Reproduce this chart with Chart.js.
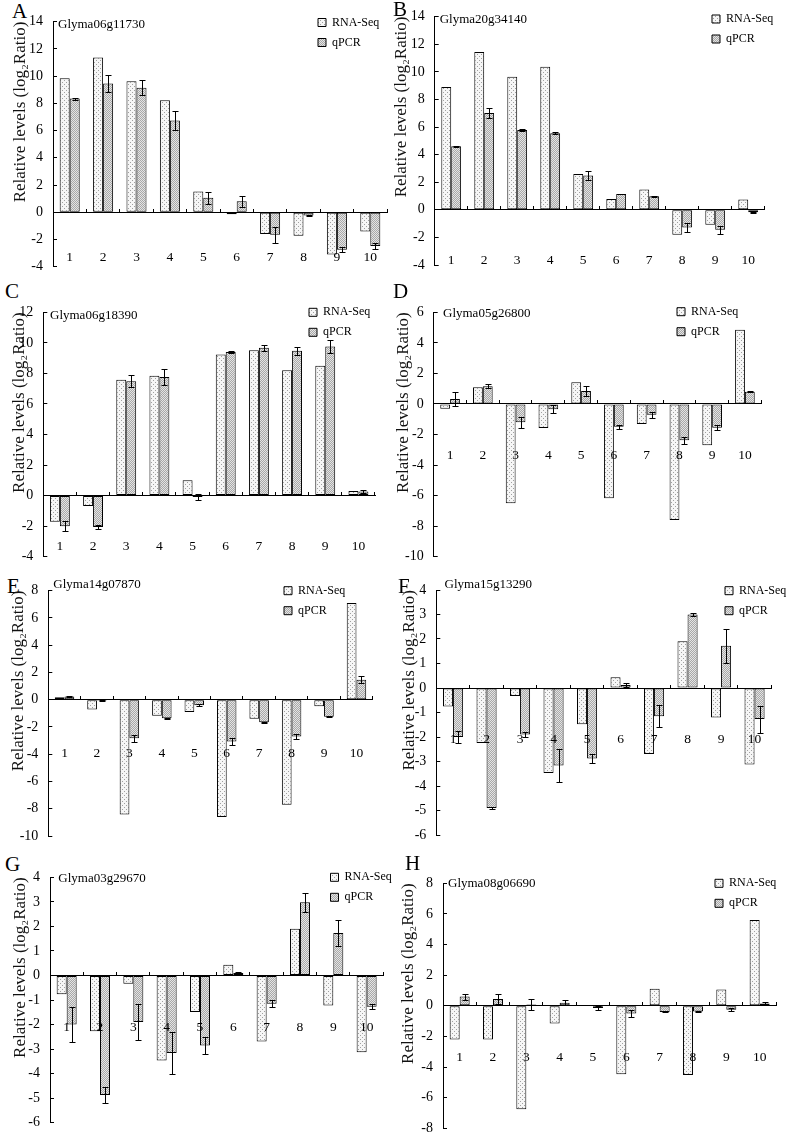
<!DOCTYPE html>
<html>
<head>
<meta charset="utf-8">
<script src="https://cdn.jsdelivr.net/npm/chart.js@4.4.1/dist/chart.umd.min.js"></script>
<style>
  html, body { margin: 0; padding: 0; background: #fff; }
  #fig { position: relative; width: 787px; height: 1138px; overflow: hidden; }
  #fig canvas { position: absolute; }
  .tag { position: absolute; font: 21px 'Liberation Serif', 'Times New Roman', serif; line-height: 21px; color: #000; }
</style>
</head>
<body>
<div id="fig"></div>
<script>
// Eight panels: RNA-Seq vs qPCR relative levels (log2 ratio) for ten samples.
const samples = ['1', '2', '3', '4', '5', '6', '7', '8', '9', '10'];
const genes = ['Glyma06g11730', 'Glyma20g34140', 'Glyma06g18390', 'Glyma05g26800',
  'Glyma14g07870', 'Glyma15g13290', 'Glyma03g29670', 'Glyma08g06690'];
const panelTags = ['A', 'B', 'C', 'D', 'E', 'F', 'G', 'H'];

const rnaA = [9.85, 11.37, 9.63, 8.22, 1.52, -0.15, -1.6, -1.72, -3.1, -1.42];
const qpcrA = [8.35, 9.46, 9.15, 6.75, 1.07, 0.8, -1.65, -0.24, -2.75, -2.47];
const errA = [0.08, 0.6, 0.55, 0.72, 0.45, 0.42, 0.6, 0.05, 0.2, 0.2];

const rnaB = [8.9, 11.45, 9.65, 10.37, 2.6, 0.78, 1.48, -1.8, -1.08, 0.74];
const qpcrB = [4.6, 7.02, 5.78, 5.55, 2.48, 1.15, 0.98, -1.28, -1.45, -0.18];
const errB = [0.05, 0.38, 0.05, 0.06, 0.3, 0.03, 0.03, 0.3, 0.28, 0.03];

const rnaC = [-1.72, -0.68, 7.58, 7.84, 1.0, 9.24, 9.52, 8.21, 8.5, 0.3];
const qpcrC = [-2.0, -2.05, 7.48, 7.77, -0.09, 9.4, 9.68, 9.48, 9.76, 0.27];
const errC = [0.35, 0.12, 0.4, 0.52, 0.2, 0.04, 0.2, 0.28, 0.42, 0.12];

const rnaD = [-0.32, 1.1, -6.5, -1.58, 1.42, -6.18, -1.32, -7.6, -2.7, 4.85];
const qpcrD = [0.33, 1.16, -1.2, -0.34, 0.84, -1.5, -0.7, -2.38, -1.55, 0.8];
const errD = [0.45, 0.14, 0.35, 0.28, 0.32, 0.12, 0.2, 0.22, 0.14, 0.03];

const rnaE = [0.18, -0.72, -8.43, -1.18, -0.9, -8.6, -1.4, -7.7, -0.48, 7.1];
const qpcrE = [0.24, -0.08, -2.82, -1.36, -0.4, -3.07, -1.65, -2.7, -1.25, 1.47];
const errE = [0.03, 0.03, 0.25, 0.04, 0.05, 0.25, 0.04, 0.18, 0.03, 0.27];

const rnaF = [-0.75, -2.24, -0.33, -3.47, -1.48, 0.44, -2.69, 1.91, -1.2, -3.12];
const qpcrF = [-2.0, -4.9, -1.9, -3.16, -2.88, 0.12, -1.15, 3.0, 1.72, -1.27];
const errF = [0.23, 0.03, 0.1, 0.68, 0.2, 0.07, 0.46, 0.08, 0.68, 0.55];

const rnaG = [-0.77, -2.27, -0.34, -3.47, -1.49, 0.44, -2.69, 1.9, -1.22, -3.13];
const qpcrG = [-2.0, -4.87, -1.9, -3.16, -2.85, 0.1, -1.15, 2.98, 1.73, -1.27];
const errG = [0.72, 0.34, 0.75, 0.87, 0.35, 0.04, 0.14, 0.4, 0.52, 0.1];

const rnaH = [-2.2, -2.2, -6.75, -1.15, 0.04, -4.47, 1.12, -4.52, 1.07, 5.6];
const qpcrH = [0.6, 0.44, 0.08, 0.2, -0.15, -0.5, -0.4, -0.38, -0.25, 0.15];
const errH = [0.2, 0.3, 0.35, 0.15, 0.12, 0.22, 0.03, 0.03, 0.08, 0.1];

// [min, max, step] of each y axis
const yRangeA = [-4, 14, 2];
const yRangeB = [-4, 14, 2];
const yRangeC = [-4, 12, 2];
const yRangeD = [-10, 6, 2];
const yRangeE = [-10, 8, 2];
const yRangeF = [-6, 4, 1];
const yRangeG = [-6, 4, 1];
const yRangeH = [-8, 8, 2];

// Page geometry of each panel (pixels), plus where the sample numbers sit (axis value).
const frames = [
  { axisX: 53, rightX: 387, topY: 21.7, botY: 266.7, titleX: 20, labelAt: -2.7, gene: [5, 2.5], legend: [318, 22.5], tag: [12, 1] },
  { axisX: 434.7, rightX: 764.7, topY: 16.7, botY: 265, titleX: 401, labelAt: -3.08, gene: [5, 3], legend: [712, 19], tag: [393, -1] },
  { axisX: 43.3, rightX: 375, topY: 312.3, botY: 556.7, titleX: 19, labelAt: -2.8, gene: [6.7, 3], legend: [309, 312.3], tag: [5, 281] },
  { axisX: 433.7, rightX: 761.3, topY: 312.3, botY: 556.7, titleX: 403, labelAt: -2.83, gene: [9.3, 1], legend: [677, 311.7], tag: [393, 281] },
  { axisX: 48.3, rightX: 372.7, topY: 590.7, botY: 836, titleX: 18.5, labelAt: -3.35, gene: [5, -5.7], legend: [284, 590.7], tag: [7, 576] },
  { axisX: 436.3, rightX: 771.3, topY: 590, botY: 835, titleX: 409, labelAt: -1.75, gene: [8.3, -5], legend: [725, 590.7], tag: [398, 576] },
  { axisX: 50, rightX: 383.3, topY: 877.3, botY: 1122.7, titleX: 20, labelAt: -1.8, gene: [8.3, 1], legend: [330.5, 877.3], tag: [5, 854] },
  { axisX: 443, rightX: 776.3, topY: 883.3, botY: 1128.3, titleX: 408, labelAt: -2.86, gene: [5, 0], legend: [715, 883.3], tag: [405, 853] },
];

const SERIF = "'Liberation Serif', 'Times New Roman', serif";
const LEGEND_FONT = 12;
const LEGEND_PAD = 8;
const PAGE_W = 787;
const fig = document.getElementById('fig');

function makePattern(bg, dot, cells) {
  const c = document.createElement('canvas');
  c.width = 4;
  c.height = 4;
  const g = c.getContext('2d');
  g.fillStyle = bg;
  g.fillRect(0, 0, 4, 4);
  g.fillStyle = dot;
  cells.forEach(([x, y]) => g.fillRect(x, y, 1, 1));
  return g.createPattern(c, 'repeat');
}

const rnaFill = makePattern('#f6f6f6', '#a0a0a0', [[0, 0], [2, 2]]);
const qpcrFill = makePattern('#e4e4e4', '#a8a8a8',
  [[0, 0], [2, 0], [1, 1], [3, 1], [0, 2], [2, 2], [1, 3], [3, 3]]);

function zeroPad(scale) {
  scale.paddingLeft = 0;
  scale.paddingRight = 0;
  scale.paddingTop = 0;
  scale.paddingBottom = 0;
}

// qPCR error bars, placed with the y scale
function errorBars(err) {
  return {
    id: 'errorBars',
    afterDatasetsDraw(chart) {
      const meta = chart.getDatasetMeta(1);
      const values = chart.data.datasets[1].data;
      const y = chart.scales.y;
      const ctx = chart.ctx;
      ctx.save();
      ctx.strokeStyle = '#000';
      ctx.lineWidth = 1;
      meta.data.forEach((bar, i) => {
        const e = err[i];
        if (!e) return;
        const x = Math.round(bar.x) + 0.5;
        const hi = Math.round(y.getPixelForValue(values[i] + e)) + 0.5;
        const lo = Math.round(y.getPixelForValue(values[i] - e)) + 0.5;
        ctx.beginPath();
        ctx.moveTo(x, hi);
        ctx.lineTo(x, lo);
        ctx.moveTo(x - 3, hi);
        ctx.lineTo(x + 3, hi);
        ctx.moveTo(x - 3, lo);
        ctx.lineTo(x + 3, lo);
        ctx.stroke();
      });
      ctx.restore();
    },
  };
}

function geneLabel(name, offset) {
  return {
    id: 'geneLabel',
    afterDraw(chart) {
      const { ctx, chartArea } = chart;
      ctx.save();
      ctx.font = `13px ${SERIF}`;
      ctx.fillStyle = '#000';
      ctx.textBaseline = 'middle';
      ctx.fillText(name, chartArea.left + offset[0], chartArea.top + offset[1]);
      ctx.restore();
    },
  };
}

// The legend sits inside the plot, at the top right, as one column.
function legendPlacer(pos, left, top) {
  return {
    id: 'legendPlacer',
    afterLayout(chart) {
      const lg = chart.legend;
      if (!lg) return;
      lg.left = pos[0] - left - LEGEND_PAD;
      lg.top = pos[1] - top - LEGEND_PAD - LEGEND_FONT / 2;
      lg.width = 120;
      lg.height = 60;
      lg.right = lg.left + lg.width;
      lg.bottom = lg.top + lg.height;
    },
  };
}

function buildPanel(i, rna, qpcr, err, yRange) {
  const f = frames[i];
  const left = Math.round(f.titleX - 10.2);
  const top = Math.max(0, Math.round(f.topY - 20));
  const width = Math.round(Math.min(PAGE_W, f.rightX + 30) - left);
  const height = Math.round(f.botY + 10 - top);

  const tag = document.createElement('div');
  tag.className = 'tag';
  tag.textContent = panelTags[i];
  tag.style.left = f.tag[0] + 'px';
  tag.style.top = f.tag[1] + 'px';
  fig.appendChild(tag);

  const canvas = document.createElement('canvas');
  canvas.width = width;
  canvas.height = height;
  canvas.style.left = left + 'px';
  canvas.style.top = top + 'px';
  canvas.style.width = width + 'px';
  canvas.style.height = height + 'px';
  fig.appendChild(canvas);

  const [yMin, yMax, yStep] = yRange;

  return new Chart(canvas.getContext('2d'), {
    type: 'bar',
    data: {
      labels: samples,
      datasets: [
        { label: 'RNA-Seq', data: rna, backgroundColor: rnaFill, borderColor: '#000', borderWidth: 1, borderSkipped: false },
        { label: 'qPCR', data: qpcr, backgroundColor: qpcrFill, borderColor: '#000', borderWidth: 1, borderSkipped: false },
      ],
    },
    options: {
      responsive: false,
      animation: false,
      devicePixelRatio: 1,
      events: [],
      layout: {
        padding: {
          left: 0,
          top: f.topY - top,
          right: left + width - f.rightX,
          bottom: top + height - f.botY,
        },
      },
      datasets: { bar: { categoryPercentage: 0.6, barPercentage: 1 } },
      scales: {
        x: {
          axis: 'x',
          position: { y: 0 },
          offset: true,
          grid: { offset: true, drawOnChartArea: false, drawTicks: true, tickLength: -4, color: '#000' },
          border: { display: true, color: '#000', width: 1 },
          ticks: { display: false },
          afterFit: zeroPad,
        },
        x2: {
          axis: 'x',
          type: 'category',
          position: { y: f.labelAt },
          offset: true,
          grid: { display: false, drawTicks: false },
          border: { display: false },
          ticks: { z: 1, font: { family: SERIF, size: 13.5 }, color: '#000', padding: 0, autoSkip: false, maxRotation: 0 },
          afterFit: zeroPad,
        },
        y: {
          min: yMin,
          max: yMax,
          ticks: { stepSize: yStep, font: { family: SERIF, size: 14 }, color: '#000', padding: 14 },
          grid: { drawOnChartArea: false, drawTicks: true, tickLength: -4, color: '#000' },
          border: { display: true, color: '#000', width: 1 },
          title: {
            display: true,
            text: 'Relative levels (log₂Ratio)',
            align: 'end',
            padding: 0,
            color: '#111',
            font: { family: SERIF, size: 17 },
          },
          afterFit: (scale) => {
            zeroPad(scale);
            scale.width = f.axisX - left;
          },
        },
      },
      plugins: {
        legend: {
          position: 'chartArea',
          align: 'start',
          labels: {
            boxWidth: 8,
            boxHeight: 8,
            padding: LEGEND_PAD,
            color: '#000',
            font: { family: SERIF, size: LEGEND_FONT },
          },
        },
        tooltip: { enabled: false },
      },
    },
    plugins: [errorBars(err), geneLabel(genes[i], f.gene), legendPlacer(f.legend, left, top)],
  });
}

buildPanel(0, rnaA, qpcrA, errA, yRangeA);
buildPanel(1, rnaB, qpcrB, errB, yRangeB);
buildPanel(2, rnaC, qpcrC, errC, yRangeC);
buildPanel(3, rnaD, qpcrD, errD, yRangeD);
buildPanel(4, rnaE, qpcrE, errE, yRangeE);
buildPanel(5, rnaF, qpcrF, errF, yRangeF);
buildPanel(6, rnaG, qpcrG, errG, yRangeG);
buildPanel(7, rnaH, qpcrH, errH, yRangeH);
</script>
</body>
</html>
